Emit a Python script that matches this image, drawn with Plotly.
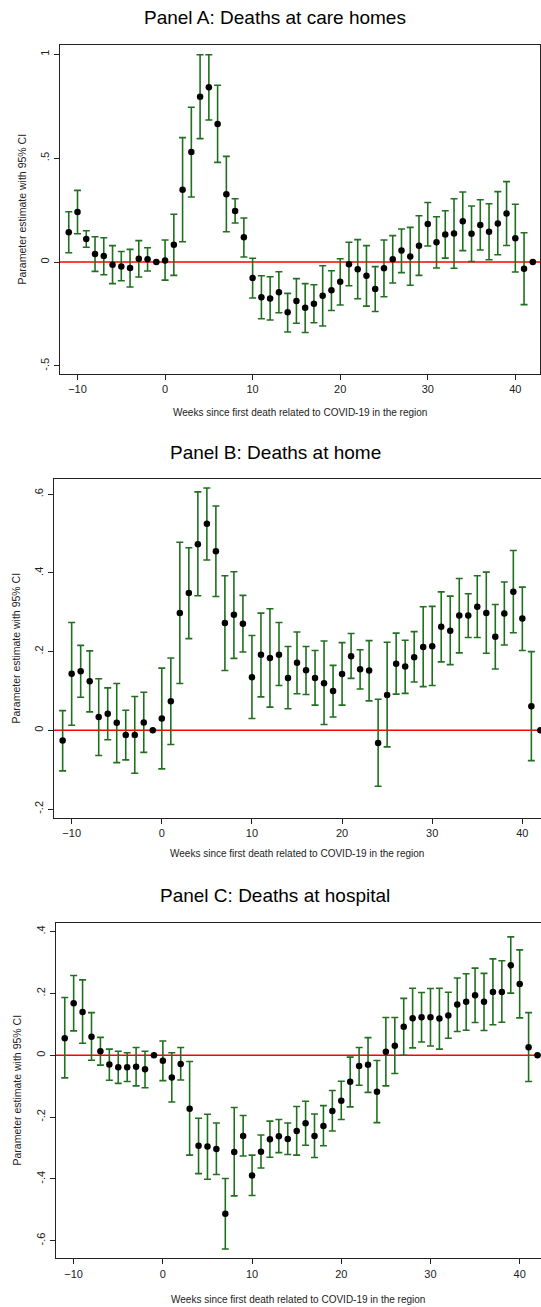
import plotly.graph_objects as go

weeks = list(range(-11, 43))

# Panel A: Deaths at care homes
a_est = [0.143, 0.241, 0.111, 0.039, 0.029, -0.013, -0.021, -0.029, 0.016, 0.013, 0.0,
         0.008, 0.083, 0.348, 0.530, 0.796, 0.841, 0.665, 0.327, 0.246, 0.119,
         -0.077, -0.170, -0.175, -0.146, -0.242, -0.188, -0.220, -0.201, -0.162, -0.136,
         -0.095, -0.010, -0.035, -0.066, -0.130, -0.030, 0.013, 0.055, 0.027, 0.079,
         0.183, 0.095, 0.133, 0.138, 0.196, 0.136, 0.178, 0.146, 0.186, 0.234,
         0.114, -0.032, 0.0]
a_lo = [0.045, 0.136, 0.071, -0.045, -0.061, -0.104, -0.090, -0.120, -0.072, -0.043, None,
        -0.087, -0.064, 0.098, 0.313, 0.594, 0.684, 0.480, 0.146, 0.188, 0.024,
        -0.173, -0.273, -0.279, -0.244, -0.337, -0.295, -0.339, -0.292, -0.308, -0.233,
        -0.207, -0.114, -0.177, -0.212, -0.238, -0.167, -0.101, -0.051, -0.112, -0.064,
        0.077, -0.029, 0.019, -0.030, 0.055, 0.003, 0.058, 0.011, 0.035, 0.080,
        -0.048, -0.205, None]
a_hi = [0.242, 0.345, 0.151, 0.122, 0.117, 0.079, 0.051, 0.061, 0.103, 0.069, None,
        0.106, 0.230, 0.599, 0.745, 0.998, 0.998, 0.851, 0.509, 0.305, 0.212,
        0.018, -0.066, -0.071, -0.047, -0.151, -0.080, -0.104, -0.109, -0.018, -0.042,
        0.016, 0.095, 0.108, 0.079, -0.022, 0.106, 0.127, 0.159, 0.167, 0.223,
        0.287, 0.218, 0.247, 0.305, 0.337, 0.270, 0.300, 0.281, 0.339, 0.387,
        0.278, 0.141, None]

# Panel B: Deaths at home
b_est = [-0.026, 0.144, 0.150, 0.125, 0.034, 0.042, 0.019, -0.012, -0.012, 0.020, 0.0,
         0.030, 0.074, 0.298, 0.349, 0.473, 0.525, 0.455, 0.273, 0.294, 0.271,
         0.135, 0.192, 0.184, 0.192, 0.133, 0.172, 0.153, 0.133, 0.120, 0.100,
         0.143, 0.188, 0.155, 0.152, -0.032, 0.090, 0.169, 0.162, 0.186, 0.212,
         0.214, 0.263, 0.253, 0.292, 0.292, 0.314, 0.298, 0.238, 0.297, 0.352,
         0.284, 0.061, 0.0]
b_lo = [-0.103, 0.013, 0.084, 0.047, -0.064, -0.024, -0.082, -0.075, -0.109, -0.056, None,
        -0.098, -0.036, 0.119, 0.233, 0.342, 0.433, 0.340, 0.152, 0.183, 0.199,
        0.030, 0.085, 0.059, 0.114, 0.055, 0.093, 0.091, 0.064, 0.015, 0.034,
        0.064, 0.132, 0.105, 0.075, -0.142, -0.042, 0.092, 0.094, 0.123, 0.111,
        0.114, 0.174, 0.167, 0.197, 0.236, 0.236, 0.196, 0.156, 0.217, 0.248,
        0.203, -0.077, None]
b_hi = [0.050, 0.274, 0.216, 0.202, 0.131, 0.108, 0.119, 0.051, 0.086, 0.097, None,
        0.158, 0.184, 0.478, 0.464, 0.606, 0.616, 0.570, 0.393, 0.403, 0.343,
        0.241, 0.298, 0.309, 0.274, 0.213, 0.250, 0.213, 0.203, 0.227, 0.165,
        0.223, 0.246, 0.205, 0.228, 0.079, 0.224, 0.247, 0.229, 0.251, 0.314,
        0.315, 0.352, 0.341, 0.386, 0.347, 0.393, 0.402, 0.320, 0.377, 0.457,
        0.364, 0.200, None]

# Panel C: Deaths at hospital
c_est = [0.055, 0.168, 0.140, 0.060, 0.013, -0.030, -0.039, -0.039, -0.037, -0.045, 0.0,
         -0.018, -0.072, -0.028, -0.173, -0.293, -0.295, -0.303, -0.513, -0.313, -0.261,
         -0.389, -0.312, -0.272, -0.262, -0.271, -0.245, -0.220, -0.261, -0.229, -0.180,
         -0.147, -0.086, -0.035, -0.031, -0.118, 0.011, 0.031, 0.092, 0.120, 0.123,
         0.123, 0.119, 0.129, 0.164, 0.173, 0.194, 0.173, 0.205, 0.205, 0.291,
         0.231, 0.026, 0.0]
c_lo = [-0.073, 0.079, 0.039, -0.016, -0.032, -0.081, -0.091, -0.085, -0.099, -0.105, None,
        -0.082, -0.151, -0.080, -0.323, -0.383, -0.401, -0.386, -0.627, -0.455, -0.326,
        -0.454, -0.365, -0.330, -0.315, -0.321, -0.323, -0.291, -0.331, -0.293, -0.245,
        -0.208, -0.167, -0.097, -0.120, -0.218, -0.099, -0.059, 0.000, 0.024, 0.043,
        0.030, 0.020, 0.055, 0.077, 0.081, 0.106, 0.080, 0.099, 0.107, 0.201,
        0.121, -0.085, None]
c_hi = [0.187, 0.258, 0.244, 0.138, 0.058, 0.020, 0.013, 0.008, 0.025, 0.013, None,
        0.046, 0.008, 0.025, -0.020, -0.204, -0.191, -0.219, -0.399, -0.169, -0.195,
        -0.323, -0.258, -0.213, -0.208, -0.219, -0.166, -0.149, -0.190, -0.163, -0.114,
        -0.084, -0.006, 0.025, 0.057, -0.017, 0.122, 0.122, 0.184, 0.217, 0.203,
        0.216, 0.217, 0.204, 0.250, 0.264, 0.282, 0.265, 0.312, 0.306, 0.383,
        0.341, 0.138, None]

titles = ["Panel A: Deaths at care homes", "Panel B: Deaths at home", "Panel C: Deaths at hospital"]
x_title = "Weeks since first death related to COVID-19 in the region"
y_title = "Parameter estimate with 95% CI"
x_ticks = [-10, 0, 10, 20, 30, 40]
a_yticks = [-0.5, 0, 0.5, 1]
a_ytext = ["-.5", "0", ".5", "1"]
b_yticks = [-0.2, 0, 0.2, 0.4, 0.6]
b_ytext = ["-.2", "0", ".2", ".4", ".6"]
c_yticks = [-0.6, -0.4, -0.2, 0, 0.2, 0.4]
c_ytext = ["-.6", "-.4", "-.2", "0", ".2", ".4"]

W, H = 541, 1307
FONT = "Liberation Sans, Arial, Helvetica, sans-serif"
GREEN = "rgb(32,112,32)"

# layout geometry in pixels: (left, right, top, bottom), x range, y range
panels = [
    dict(est=a_est, lo=a_lo, hi=a_hi, px=(60, 540, 45, 374), xr=[-12, 42.82], yr=[-0.539, 1.045],
         yt=a_yticks, ytt=a_ytext, title_y=18, ytitle_x=21, xtitle_y=412),
    dict(est=b_est, lo=b_lo, hi=b_hi, px=(54, 541, 479.3, 817.7), xr=[-11.96, 42.07], yr=[-0.222, 0.638],
         yt=b_yticks, ytt=b_ytext, title_y=452, ytitle_x=15, xtitle_y=853),
    dict(est=c_est, lo=c_lo, hi=c_hi, px=(56, 541, 922.7, 1258.3), xr=[-11.98, 42.39], yr=[-0.657, 0.429],
         yt=c_yticks, ytt=c_ytext, title_y=895, ytitle_x=16, xtitle_y=1299),
]

fig = go.Figure()
layout = dict(width=W, height=H, margin=dict(l=0, r=0, t=0, b=0),
              paper_bgcolor="white", plot_bgcolor="white", showlegend=False,
              font=dict(family=FONT, color="#222"))
annotations = []
shapes = []

for i, p in enumerate(panels):
    n = "" if i == 0 else str(i + 1)
    xa, ya = "x" + n, "y" + n
    plus = [None if h is None else h - e for h, e in zip(p["hi"], p["est"])]
    minus = [None if l is None else e - l for l, e in zip(p["lo"], p["est"])]
    fig.add_trace(go.Scatter(
        x=weeks, y=p["est"], mode="markers", xaxis=xa, yaxis=ya,
        marker=dict(color="black", size=6.5),
        error_y=dict(type="data", array=plus, arrayminus=minus, symmetric=False,
                     color=GREEN, thickness=1.6, width=3.5),
        cliponaxis=False,
    ))
    l, r, t, b = p["px"]
    layout["xaxis" + n] = dict(
        domain=[l / W, r / W], range=p["xr"], anchor=ya,
        tickvals=x_ticks, ticks="outside", ticklen=5, tickcolor="#222",
        showline=True, linecolor="#222", linewidth=1.3, mirror=True,
        showgrid=False, zeroline=False, tickfont=dict(size=11, family=FONT, color="#222"))
    layout["yaxis" + n] = dict(
        domain=[1 - b / H, 1 - t / H], range=p["yr"], anchor=xa,
        tickvals=p["yt"], ticktext=p["ytt"], tickangle=-90,
        ticks="outside", ticklen=5, tickcolor="#222",
        showline=True, linecolor="#222", linewidth=1.3, mirror=True,
        showgrid=False, zeroline=False, tickfont=dict(size=11, family=FONT, color="#222"))
    shapes.append(dict(type="line", xref=xa + " domain", yref=ya, x0=0, x1=1, y0=0, y1=0,
                       line=dict(color="red", width=1.5), layer="below"))
    annotations.append(dict(text=titles[i], xref="paper", yref="paper",
                            x=275 / W, y=1 - p["title_y"] / H, showarrow=False,
                            xanchor="center", yanchor="middle",
                            font=dict(size=19, family=FONT, color="black")))
    annotations.append(dict(text=y_title, xref="paper", yref="paper", textangle=-90,
                            x=p["ytitle_x"] / W, y=1 - ((t + b) / 2) / H, showarrow=False,
                            xanchor="center", yanchor="middle",
                            font=dict(size=10.5, family=FONT, color="#222")))
    annotations.append(dict(text=x_title, xref="paper", yref="paper",
                            x=((l + min(r, 540)) / 2) / W, y=1 - p["xtitle_y"] / H, showarrow=False,
                            xanchor="center", yanchor="middle",
                            font=dict(size=10, family=FONT, color="#222")))

layout["annotations"] = annotations
layout["shapes"] = shapes
fig.update_layout(**layout)
fig.write_html("out.html", config={"displayModeBar": False},
               post_script="document.body.style.margin='0';document.body.style.overflow='hidden';")
